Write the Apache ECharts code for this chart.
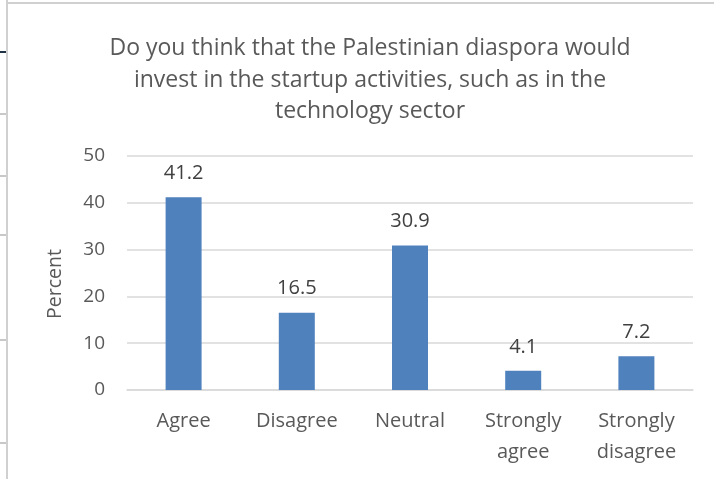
<!DOCTYPE html>
<html>
<head>
<meta charset="utf-8">
<script src="https://cdn.jsdelivr.net/npm/echarts@6/dist/echarts.min.js"></script>
<style>
  html, body { margin: 0; padding: 0; background: #ffffff; }
  #chart { width: 714px; height: 479px; }
</style>
</head>
<body>
<div id="chart"></div>
<script>
// Survey responses
const categories = ['Agree', 'Disagree', 'Neutral', 'Strongly\nagree', 'Strongly\ndisagree'];
const percents = [41.2, 16.5, 30.9, 4.1, 7.2];
const yTicks = { min: 0, max: 50, interval: 10 };
const titleText = 'Do you think that the Palestinian diaspora would\ninvest in the startup activities, such as in the\ntechnology sector';
const yName = 'Percent';

const FONT = 'Open Sans';
const chart = echarts.init(document.getElementById('chart'));

// Sheet border fragments along the left and top edge
const edgeTicks = [52, 114, 176, 235, 340, 443];
const graphics = [
  { type: 'line', shape: { x1: 7, y1: 0, x2: 7, y2: 479 }, style: { stroke: '#d0d0d0', lineWidth: 2 } },
  { type: 'line', shape: { x1: 7, y1: 3, x2: 714, y2: 3 }, style: { stroke: '#d0d0d0', lineWidth: 2 } },
  // vertical axis title
  { type: 'text', x: 55, y: 284, rotation: Math.PI / 2,
    style: { text: yName, fontFamily: FONT, fontSize: 19.5, fill: '#595959', align: 'center', verticalAlign: 'middle' } }
];
edgeTicks.forEach((y, i) => {
  graphics.push({ type: 'line', shape: { x1: 0, y1: y, x2: 6, y2: y },
    style: { stroke: i === 0 ? '#1f3344' : '#c8c8c8', lineWidth: 2 } });
});

chart.setOption({
  animation: false,
  backgroundColor: '#ffffff',
  title: {
    text: titleText,
    left: 365, top: 28, textAlign: 'center',
    textStyle: { fontFamily: FONT, fontSize: 23, fontWeight: 'normal', color: '#595959', lineHeight: 31.5 }
  },
  graphic: graphics,
  grid: { left: 127, right: 21, top: 156, bottom: 89, containLabel: false },
  xAxis: {
    type: 'category',
    data: categories,
    axisLine: { show: true, lineStyle: { color: '#d9d9d9', width: 1.5 } },
    axisTick: { show: false },
    axisLabel: { fontFamily: FONT, fontSize: 20, color: '#595959', lineHeight: 31, margin: 16 }
  },
  yAxis: {
    type: 'value',
    min: yTicks.min, max: yTicks.max, interval: yTicks.interval,
    axisLine: { show: false }, axisTick: { show: false },
    axisLabel: { fontFamily: FONT, fontSize: 19, color: '#595959', margin: 22 },
    splitLine: { lineStyle: { color: '#d9d9d9', width: 1.5 } }
  },
  series: [{
    type: 'bar',
    data: percents,
    barWidth: 36,
    itemStyle: { color: '#4f81bd' },
    label: {
      show: true, position: 'top', distance: 14,
      fontFamily: FONT, fontSize: 20, color: '#404040',
      formatter: p => p.value.toFixed(1)
    }
  }]
});
</script>
</body>
</html>
